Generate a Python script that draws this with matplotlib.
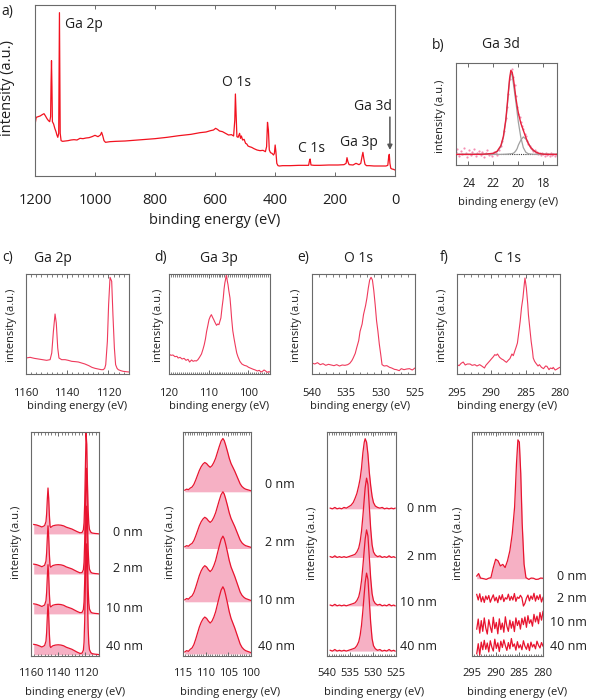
import numpy as np
import matplotlib
matplotlib.use('Agg')
import matplotlib.pyplot as plt
from matplotlib.ticker import MultipleLocator

plt.rcParams['font.family'] = ['Open Sans', 'DejaVu Sans']

W, H = 589, 700
TXT = '#1e1e1e'
SPINE = '#6a6a6a'
RED_SURVEY = '#f2121f'
RED_TOP = '#ef3a5c'
RED_BOT = '#e8142f'
FILL = '#f6b0c4'

# ---- a) survey spectrum (binding energy eV, intensity a.u.)
survey_e = np.array([1200, 1196, 1190, 1183, 1176, 1170, 1165, 1160, 1155, 1151, 1148, 1146.5, 1145, 1143.5,
                     1142, 1138, 1134, 1130, 1127, 1124, 1121, 1119.5, 1118.5, 1117.5, 1116, 1113, 1108, 1100,
                     1090, 1080, 1070, 1060, 1050, 1040, 1030, 1020, 1010, 1000, 990, 982, 978, 974, 970, 965,
                     950, 930, 900, 870, 840, 800, 760, 720, 680, 650, 630, 615, 605, 598, 592, 585, 575, 565,
                     555, 545, 538, 534, 532, 530, 527, 523, 518, 515, 512, 508, 503, 498, 494, 490, 485, 478,
                     470, 460, 450, 440, 432, 428, 425, 422, 419, 415, 410, 405, 402, 399.5, 397, 394, 390, 385,
                     375, 350, 320, 300, 288, 285, 283, 280, 270, 250, 220, 190, 170, 163, 160, 157, 153, 140,
                     130, 125, 120, 114, 110, 107, 104, 100, 95, 85, 70, 50, 30, 24, 21, 19, 17, 14, 10, 5, 0])
survey_i = np.array([153, 176, 178, 180, 184, 187, 180, 172, 166, 163, 178, 278, 346, 268,
                     163, 156, 143, 133, 123, 116, 128, 328, 490, 348, 128, 106, 104, 105,
                     106, 108, 109, 108, 113, 112, 114, 115, 118, 122, 118, 123, 131, 120, 106, 101,
                     103, 104, 105, 107, 109, 112, 116, 121, 125, 130, 132, 136, 138, 143, 140, 135, 133, 128,
                     123, 124, 120, 168, 246, 198, 118, 116, 128, 113, 120, 108, 110, 98, 96, 90, 88, 86,
                     82, 78, 76, 77, 73, 88, 161, 138, 78, 70, 68, 63, 68, 93, 73, 38, 31, 30,
                     31, 31, 32, 32, 32, 46, 51, 33, 32, 32, 33, 33, 34, 38, 55, 43, 34, 33,
                     38, 36, 34, 38, 58, 71, 53, 35, 31, 31, 30, 30, 30, 32, 58, 65, 38, 23, 21, 20, 18])

# ---- b) Ga 3d high resolution with fit
b_pts_e = np.array([25.0, 24.9, 24.75, 24.6, 24.5, 24.35, 24.2, 24.1, 23.95, 23.8, 23.7, 23.55, 23.4, 23.3,
                    23.15, 23.0, 22.9, 22.75, 22.6, 22.5, 22.35, 22.2, 22.1, 21.95, 21.8, 21.7, 21.55, 21.4,
                    21.3, 21.15, 21.0, 20.9, 20.8, 20.7, 20.6, 20.5, 20.4, 20.3, 20.2, 20.1, 20.0, 19.9, 19.8,
                    19.7, 19.6, 19.5, 19.4, 19.3, 19.2, 19.1, 19.0, 18.9, 18.8, 18.7, 18.6, 18.5, 18.4, 18.3,
                    18.2, 18.1, 18.0, 17.9, 17.8, 17.7, 17.6, 17.5, 17.4, 17.3, 17.2, 17.1, 17.0])
b_pts_i = np.array([13, 16, 9, 14, 11, 17, 12, 8, 15, 10, 13, 16, 9, 12, 14, 10, 13, 8, 12, 15,
                    10, 11, 9, 13, 12, 10, 15, 19, 24, 33, 46, 57, 70, 84, 91, 94, 86, 78, 68, 57,
                    50, 47, 42, 38, 35, 30, 28, 24, 21, 19, 17, 16, 14, 15, 12, 13, 11, 12, 10, 12,
                    11, 9, 12, 10, 11, 9, 12, 10, 11, 9, 11])
b_fit_e = np.array([25, 24, 23, 22.5, 22, 21.7, 21.4, 21.2, 21.0, 20.9, 20.8, 20.7, 20.6, 20.5, 20.4, 20.3,
                    20.2, 20.1, 20.0, 19.8, 19.6, 19.4, 19.2, 19.0, 18.8, 18.6, 18.4, 18.2, 18.0, 17.5, 16.9])
b_fit = np.array([10.4, 10.4, 10.5, 10.8, 11.5, 13.5, 19, 28, 45, 58, 72, 85, 92.8, 91, 85, 76,
                  66, 58, 51, 41, 34, 27, 21, 17, 14.5, 12.8, 11.6, 11, 10.6, 10.4, 10.4])
b_comp1 = np.array([10.4, 10.4, 10.5, 10.7, 11.3, 13, 18, 27, 43.5, 56, 70, 83, 90.5, 88, 80, 71,
                    62, 52, 42, 27, 17, 12.5, 11, 10.7, 10.5, 10.4, 10.4, 10.4, 10.4, 10.4, 10.4])
b_comp2 = np.array([10.4, 10.4, 10.4, 10.4, 10.4, 10.4, 10.4, 10.5, 10.6, 10.7, 10.8, 10.9, 10.9, 11.2, 11.5, 12.5,
                    14, 16, 19.5, 24.5, 27.5, 25.5, 21.5, 17, 14, 12.5, 11.4, 10.9, 10.6, 10.4, 10.4])
b_bg_e = [25, 16.9]
b_bg = [10.4, 10.4]

# ---- c-f) top row, single spectra
c_e = np.array([1160, 1158, 1156, 1154, 1152, 1150, 1148.3, 1147.5, 1146.7, 1145.9, 1145.3, 1144.6, 1144,
                1142.7, 1141, 1139.5, 1137.8, 1136, 1134.6, 1133, 1131.4, 1129.5, 1128, 1126.5, 1125,
                1123.5, 1122.5, 1121.8, 1121.3, 1120.5, 1119.9, 1119.2, 1118.4, 1117.8, 1117.1, 1116.5,
                1115.8, 1115.2, 1114, 1112.8, 1111.5, 1110])
c_i = np.array([48, 50, 47, 45, 43, 41, 43, 63, 128, 180, 153, 78, 48,
                43, 43, 41, 38, 37, 36, 33, 30, 25, 20, 17, 15,
                13, 13, 17, 28, 98, 208, 290, 278, 178, 78, 28,
                17, 13, 10, 8, 7, 6])

d_e = np.array([120, 119.5, 119, 118.5, 118, 117.7, 117.2, 116.7, 116.2, 115.7, 115.2, 114.8, 114.3, 113.9,
                113.5, 113.1, 112.7, 112.3, 111.8, 111.4, 111.1, 110.8, 110.5, 110.2, 109.9, 109.6, 109.3,
                109.0, 108.7, 108.4, 108.0, 107.7, 107.4, 107.1, 106.9, 106.6, 106.3, 106.1, 105.9, 105.7,
                105.5, 105.3, 105.1, 104.9, 104.6, 104.4, 104.2, 103.9, 103.6, 103.3, 102.9, 102.6, 102.1,
                101.6, 101.0, 100.4, 99.9, 99.3, 98.7, 98.2, 97.7, 97.2, 96.8, 96.4, 96.0, 95.6, 95.2,
                94.8, 94.5])
d_i = np.array([60, 56, 57, 52, 53, 48, 50, 45, 47, 41, 44, 36, 42, 38,
                40, 39, 43, 50, 60, 75, 88, 105, 128, 145, 163, 172, 178,
                170, 163, 155, 146, 150, 148, 160, 168, 200, 228, 255, 273, 285,
                298, 280, 268, 250, 228, 200, 168, 130, 108, 88, 63, 52, 38,
                30, 26, 24, 20, 17, 14, 12, 9, 11, 6, 8, 12, 9, 5,
                7, 6])

e_e = np.array([540, 539.6, 539.2, 538.8, 538.4, 538, 537.6, 537.2, 536.8, 536.4, 536, 535.6, 535.2, 534.8,
                534.5, 534.2, 534, 533.7, 533.5, 533.2, 533, 532.7, 532.5, 532.2, 532, 531.8, 531.6, 531.4,
                531.2, 531.0, 530.8, 530.6, 530.4, 530.2, 530.0, 529.8, 529.5, 529.1, 528.7, 528.4, 528.0,
                527.7, 527.3, 527, 526.6, 526.2, 525.8, 525.4, 525])
e_i = np.array([33, 30, 34, 28, 31, 26, 29, 27, 25, 28, 24, 27, 26, 28,
                32, 40, 48, 62, 78, 100, 128, 150, 178, 205, 228, 258, 282, 290,
                282, 250, 208, 160, 128, 90, 60, 28, 24, 25, 20, 18, 14,
                13, 10, 16, 13, 15, 16, 12, 18])

f_e = np.array([295, 294.7, 294.4, 294.1, 293.8, 293.5, 293.1, 292.8, 292.4, 292.1, 291.7, 291.4, 291, 290.8,
                290.5, 290.2, 290, 289.7, 289.5, 289.3, 289.1, 288.8, 288.5, 288.3, 288, 287.8, 287.5, 287.3,
                287, 286.8, 286.6, 286.4, 286.2, 286, 285.8, 285.6, 285.4, 285.2, 285.1, 284.9, 284.7, 284.6,
                284.4, 284.2, 284, 283.9, 283.7, 283.5, 283.2, 283, 282.7, 282.4, 282.1, 281.9, 281.6, 281.4,
                281.1, 281, 280.7, 280.5, 280.2, 280])
f_i = np.array([28, 25, 32, 36, 27, 30, 30, 26, 28, 24, 28, 24, 18, 26,
                33, 40, 45, 52, 58, 56, 60, 50, 45, 43, 38, 35, 42, 46,
                60, 55, 68, 80, 93, 125, 158, 200, 228, 270, 288, 258, 210, 178,
                138, 98, 68, 48, 38, 32, 24, 28, 20, 16, 24, 23, 13, 18,
                16, 20, 12, 14, 18, 20])

# ---- c-f) bottom row, depth profiles
depths = ['0 nm', '2 nm', '10 nm', '40 nm']

c_bot_e = np.array([1158, 1156, 1154, 1152, 1150, 1149, 1148.5, 1148, 1147.5, 1147, 1146.5, 1146, 1145.5,
                    1144, 1142, 1140, 1138, 1136, 1134, 1132, 1130, 1128, 1126, 1124, 1122.5, 1121.5, 1121,
                    1120.5, 1120, 1119.5, 1119, 1118.5, 1118, 1117.5, 1117, 1116, 1115, 1113, 1111, 1110])
c_bot_h = np.array([4.2, 4.0, 3.6, 3.1, 3.7, 5.5, 9.0, 15.5, 20.5, 16.0, 8.5, 3.5, 2.9,
                    3.6, 3.9, 4.0, 3.9, 3.6, 3.0, 2.6, 2.2, 1.6, 1.0, 0.5, 0.6, 1.8, 5.0,
                    14.0, 30.0, 45.0, 40.0, 23.0, 11.0, 4.5, 2.0, 0.8, 0.4, 0.2, 0.1, 0.0])
c_offsets = [54.5, 36.6, 18.8, 0.6]
c_scale = [1.0, 1.05, 1.07, 1.1]

d_bot_e = np.array([114.6, 114.2, 113.8, 113.4, 113.0, 112.6, 112.2, 111.8, 111.4, 111.0, 110.6, 110.2,
                    109.8, 109.4, 109.0, 108.6, 108.2, 107.8, 107.4, 107.0, 106.6, 106.2, 105.9, 105.6,
                    105.2, 104.8, 104.4, 104.0, 103.6, 103.2, 102.8, 102.4, 102.0, 101.6, 101.2, 100.8,
                    100.4, 100.0])
d_bot_h = np.array([0.03, 0.05, 0.04, 0.07, 0.09, 0.14, 0.22, 0.31, 0.40, 0.47, 0.52, 0.55,
                    0.53, 0.49, 0.46, 0.49, 0.55, 0.63, 0.74, 0.85, 0.95, 1.0, 0.96, 0.88,
                    0.76, 0.63, 0.53, 0.46, 0.39, 0.31, 0.23, 0.15, 0.10, 0.07, 0.05, 0.04,
                    0.03, 0.02])
d_offsets = [73.3, 48.0, 24.2, 0.9]
d_heights = [23.8, 25.3, 29.3, 30.0]

e_bot_e = np.array([539.3, 538.8, 538.3, 537.8, 537.3, 536.8, 536.3, 535.8, 535.3, 534.8, 534.3, 533.9,
                    533.5, 533.1, 532.8, 532.5, 532.2, 531.9, 531.7, 531.4, 531.1, 530.8, 530.5, 530.2,
                    529.9, 529.5, 529.0, 528.5, 528.0, 527.5, 527.0, 526.5, 526.0, 525.5, 525.2])
e_bot_surface = np.array([0.01, 0.0, 0.02, 0.0, 0.01, 0.0, 0.02, 0.01, 0.03, 0.05, 0.09, 0.15,
                          0.22, 0.33, 0.43, 0.58, 0.80, 0.95, 1.0, 0.95, 0.78, 0.52, 0.33, 0.18,
                          0.09, 0.04, 0.02, 0.01, 0.02, 0.0, 0.01, 0.0, 0.01, 0.0, 0.01])
e_bot_bulk = np.array([0.01, 0.0, 0.02, 0.0, 0.01, 0.0, 0.01, 0.0, 0.01, 0.02, 0.03, 0.04,
                       0.07, 0.12, 0.20, 0.33, 0.52, 0.74, 0.88, 1.0, 0.92, 0.64, 0.36, 0.16,
                       0.07, 0.03, 0.01, 0.02, 0.0, 0.01, 0.0, 0.02, 0.0, 0.01, 0.0])
e_offsets = [65.7, 44.0, 22.4, 2.2]
e_heights = [31.3, 35.4, 33.9, 34.8]

f_bot_e = np.array([294, 293.6, 293.2, 292.5, 292, 291.5, 291, 290.5, 290, 289.5, 289, 288.5, 288, 287.5,
                    287, 286.5, 286, 285.6, 285.3, 285, 284.7, 284.4, 284, 283.6, 283, 282.5, 282, 281.5,
                    281, 280.5, 280])
f_bot_0 = np.array([1.2, 2.3, 0.3, 0.0, -0.3, 0.2, 0.5, 5.0, 8.7, 8.0, 5.7, 6.4, 5.0, 8.0,
                    12.5, 20.0, 32.0, 51.5, 62.0, 61.0, 47.0, 24.7, 6.5, 0.5, -0.3, 0.3, 0.2, -0.3,
                    -0.2, 0.3, 0.2])
f_offset0 = 34.5
f_noise_e = np.linspace(294, 280, 45)
f_noise_2 = np.array([27.5, 25.0, 27.8, 24.2, 26.5, 23.9, 26.8, 25.2, 27.0, 24.0, 25.8, 27.3, 24.6, 26.2, 23.8,
                      26.9, 25.1, 27.4, 24.3, 26.0, 25.4, 27.6, 24.8, 26.6, 25.0, 27.9, 24.4, 26.3, 25.7, 27.1,
                      26.0, 22.3, 23.5, 25.8, 27.2, 24.6, 26.8, 25.3, 28.0, 24.5, 26.9, 25.2, 27.4, 24.1, 26.2])
f_noise_10 = np.array([12.0, 16.5, 10.2, 15.8, 11.0, 17.0, 12.5, 9.8, 16.2, 13.0, 10.5, 17.3, 12.2, 15.0, 9.9,
                       16.6, 11.8, 14.7, 10.6, 17.5, 13.3, 11.0, 16.0, 12.4, 15.4, 10.9, 17.0, 13.6, 15.8, 12.0,
                       16.8, 14.0, 17.4, 12.8, 18.0, 14.6, 16.2, 13.3, 18.6, 15.2, 17.8, 14.4, 19.4, 16.0, 19.9])
f_noise_40 = np.array([1.0, 5.5, 0.5, 6.2, 2.8, 7.0, 3.0, 5.8, 1.8, 6.8, 4.0, 2.2, 7.5, 3.4, 5.9,
                       2.0, 6.6, 3.8, 7.2, 4.6, 2.5, 6.0, 3.2, 7.8, 4.2, 5.4, 2.6, 6.4, 3.6, 5.0,
                       2.8, 6.8, 4.4, 3.0, 5.6, 2.4, 6.2, 4.0, 5.2, 3.2, 6.6, 4.8, 3.6, 6.0, 4.4])

fig = plt.figure(figsize=(W / 100, H / 100), dpi=100)


def add_ax(x0, y0, x1, y1):
    # pixel box (top-left origin) -> figure fraction
    return fig.add_axes([x0 / W, 1 - y1 / H, (x1 - x0) / W, (y1 - y0) / H])


def text(x, y, s, size=9, ha='center', va='center', rot=0):
    fig.text(x / W, 1 - y / H, s, fontsize=size, color=TXT, ha=ha, va=va, rotation=rot)


def style(ax, xlim, ylim, major, minor, size=8, pad=8.5):
    ax.set_xlim(*xlim)
    ax.set_ylim(*ylim)
    ax.xaxis.set_major_locator(MultipleLocator(major))
    if minor:
        ax.xaxis.set_minor_locator(MultipleLocator(minor))
    ax.tick_params(axis='x', which='both', direction='in', top=True, bottom=True,
                   color=SPINE, labelcolor=TXT, labelsize=size, pad=pad)
    ax.tick_params(axis='x', which='major', length=3, width=0.7)
    ax.tick_params(axis='x', which='minor', length=1.8, width=0.6)
    ax.set_yticks([])
    for s in ax.spines.values():
        s.set_color(SPINE)
        s.set_linewidth(0.8)


# a) survey
ax = add_ax(35, 5, 395, 176)
ax.plot(survey_e, survey_i, color=RED_SURVEY, lw=0.9)
style(ax, (1200, 0), (0, 513), 200, None, size=10.5, pad=12)
ax.annotate('', xy=(17, 70), xytext=(17, 185),
            arrowprops=dict(arrowstyle='-|>', color='#555555', lw=1.1, mutation_scale=7))
text(7, 12, 'a)', 10)
text(8, 88, 'intensity (a.u.)', 10.5, rot=90)
text(215, 220, 'binding energy (eV)', 10.5)
text(65, 25, 'Ga 2p', 10, ha='left')
text(236, 82, 'O 1s', 10)
text(312, 148, 'C 1s', 10)
text(359, 142, 'Ga 3p', 10)
text(373, 107, 'Ga 3d', 10)

# b) Ga 3d
ax = add_ax(456, 63, 557, 165)
ax.plot(b_bg_e, b_bg, color='#333333', lw=0.8, ls=(0, (1, 1)))
ax.scatter(b_pts_e, b_pts_i, s=2.5, color='#f58fb3', lw=0, zorder=2)
ax.plot(b_fit_e, b_comp1, color='#a0a0a0', lw=0.9, zorder=3)
ax.plot(b_fit_e, b_comp2, color='#a0a0a0', lw=0.9, zorder=3)
ax.plot(b_fit_e, b_fit, color='#e8203c', lw=1.0, zorder=4)
style(ax, (25, 16.9), (0, 100), 2, None, size=8.3, pad=8.5)
text(438, 45, 'b)', 10)
text(501, 45, 'Ga 3d', 10)
text(441, 116, 'intensity (a.u.)', 8, rot=90)
text(508, 202, 'binding energy (eV)', 8)

# top row c-f
top = [
    (26, 129, c_e, c_i, (1160, 1110), 20, 2.5, 'c)', 8, 'Ga 2p', 53, 12, 77),
    (169, 270, d_e, d_i, (120, 94.5), 10, 0.5, 'd)', 161, 'Ga 3p', 219, 158, 219),
    (312, 415, e_e, e_i, (540, 525), 5, 1, 'e)', 303, 'O 1s', 359, 297, 360),
    (457, 560, f_e, f_i, (295, 280), 5, 1, 'f)', 444, 'C 1s', 507, 442, 507),
]
for x0, x1, xe, yi, xlim, maj, mnr, tag, tx, title, ttx, ylx, xlx in top:
    ax = add_ax(x0, 274, x1, 374)
    ax.plot(xe, yi, color=RED_TOP, lw=0.8)
    style(ax, xlim, (0, 300), maj, mnr, pad=10)
    text(tx, 258, tag, 10)
    text(ttx, 258, title, 10)
    text(ylx, 325, 'intensity (a.u.)', 8, rot=90)
    text(xlx, 407, 'binding energy (eV)', 8)

# bottom row
BY0, BY1 = 432, 656

ax = add_ax(31, BY0, 99, BY1)
for off, sc in zip(c_offsets, c_scale):
    ax.fill_between(c_bot_e, off, off + sc * c_bot_h, color=FILL, lw=0)
for off, sc in zip(c_offsets, c_scale):
    ax.plot(c_bot_e, off + sc * c_bot_h, color=RED_BOT, lw=0.9)
style(ax, (1160, 1110), (0, 100), 20, 2.5)
text(17, 542, 'intensity (a.u.)', 8, rot=90)
text(75, 692, 'binding energy (eV)', 8)
for lab, y in zip(depths, [533, 568, 608, 647]):
    text(143, y, lab, 9, ha='right')

ax = add_ax(183, BY0, 251, BY1)
for off, h in zip(d_offsets, d_heights):
    ax.fill_between(d_bot_e, off, off + h * d_bot_h, color=FILL, lw=0)
    ax.plot(d_bot_e, off + h * d_bot_h, color=RED_BOT, lw=0.9)
style(ax, (115, 100), (0, 100), 5, 0.5)
text(170, 542, 'intensity (a.u.)', 8, rot=90)
text(230, 692, 'binding energy (eV)', 8)
for lab, y in zip(depths, [485, 543, 601, 647]):
    text(295, y, lab, 9, ha='right')

ax = add_ax(327, BY0, 396, BY1)
for k, (off, h) in enumerate(zip(e_offsets, e_heights)):
    shape = e_bot_surface if k == 0 else e_bot_bulk
    ax.fill_between(e_bot_e, off, off + h * shape, color=FILL, lw=0)
    ax.plot(e_bot_e, off + h * shape, color=RED_BOT, lw=0.9)
style(ax, (540, 525), (0, 100), 5, 0.5)
text(313, 543, 'intensity (a.u.)', 8, rot=90)
text(374, 692, 'binding energy (eV)', 8)
for lab, y in zip(depths, [509, 556, 603, 646]):
    text(437, y, lab, 9, ha='right')

ax = add_ax(472, BY0, 543, BY1)
ax.fill_between(f_bot_e, f_offset0, f_offset0 + f_bot_0, color=FILL, lw=0)
ax.plot(f_bot_e, f_offset0 + f_bot_0, color=RED_BOT, lw=0.9)
for trace in (f_noise_2, f_noise_10, f_noise_40):
    ax.plot(f_noise_e, trace, color=RED_BOT, lw=0.9)
style(ax, (295, 280), (0, 100), 5, 0.5)
text(459, 543, 'intensity (a.u.)', 8, rot=90)
text(517, 692, 'binding energy (eV)', 8)
for lab, y in zip(depths, [576, 599, 622, 646]):
    text(587, y, lab, 9, ha='right')

fig.savefig('out.png', dpi=100, facecolor='white')
